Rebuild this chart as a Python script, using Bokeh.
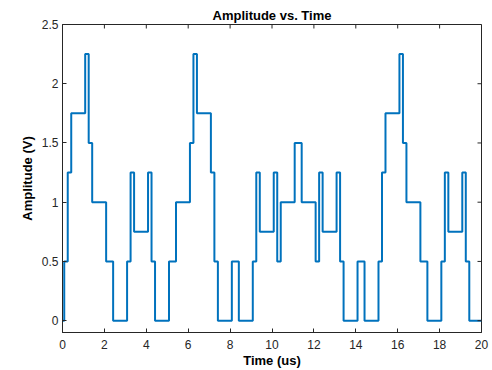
import math
from bokeh.plotting import figure
from bokeh.models import Range1d, FixedTicker
from bokeh.embed import file_html
from bokeh.resources import INLINE

# Step signal: time of each level change (us) and new level (V)
time_us = [0.0, 0.083, 0.25, 0.417, 1.083, 1.25, 1.417, 2.083, 2.417, 3.083, 3.25, 3.417,
           4.083, 4.25, 4.417, 5.083, 5.417, 6.083, 6.25, 6.417, 7.083, 7.25, 7.417,
           8.083, 8.417, 9.083, 9.25, 9.417, 10.083, 10.25, 10.417, 11.083, 11.417,
           12.083, 12.25, 12.417, 13.083, 13.25, 13.417, 14.083, 14.417, 15.083, 15.25,
           15.417, 16.083, 16.25, 16.417, 17.083, 17.417, 18.083, 18.25, 18.417, 19.083,
           19.25, 19.417, 20.0]
amplitude_v = [0.0, 0.5, 1.25, 1.75, 2.25, 1.5, 1.0, 0.5, 0.0, 0.5, 1.25, 0.75,
               1.25, 0.5, 0.0, 0.5, 1.0, 1.5, 2.25, 1.75, 1.25, 0.5, 0.0,
               0.5, 0.0, 0.5, 1.25, 0.75, 1.25, 0.5, 1.0, 1.5, 1.0,
               0.5, 1.25, 0.75, 1.25, 0.5, 0.0, 0.5, 0.0, 0.5, 1.25,
               1.75, 2.25, 1.5, 1.0, 0.5, 0.0, 0.5, 1.25, 0.75, 1.25,
               0.5, 0.0, 0.0]

x_ticks = [0, 2, 4, 6, 8, 10, 12, 14, 16, 18, 20]
y_ticks = [0, 0.5, 1, 1.5, 2, 2.5]
y_tick_labels = ["0", "0.5", "1", "1.5", "2", "2.5"]
x_lim = (0, 20)
y_lim = (-0.1, 2.5)

FONT = "Liberation Sans"
AX = "#262626"

p = figure(width=492, height=370, output_backend="svg", toolbar_location=None,
           x_range=Range1d(*x_lim), y_range=Range1d(*y_lim),
           min_border_left=62, min_border_right=11, min_border_top=24, min_border_bottom=37,
           title="Amplitude vs. Time")
p.background_fill_color = "white"
p.border_fill_color = "white"
p.outline_line_color = AX
p.grid.visible = False

p.title.align = "center"
p.title.text_font = FONT
p.title.text_font_size = "13px"
p.title.text_font_style = "bold"
p.title.text_color = "#000000"
p.title.standoff = 4

p.step(time_us, amplitude_v, mode="after", line_color="#0072BD", line_width=2)

# inward tick marks on the top and right edges of the box (MATLAB style)
p.ray(x=x_ticks, y=[y_lim[1]] * len(x_ticks), length=4, length_units="screen",
      angle=-math.pi / 2, line_color=AX, line_width=1)
p.ray(x=[x_lim[1]] * len(y_ticks), y=y_ticks, length=4, length_units="screen",
      angle=math.pi, line_color=AX, line_width=1)

def style(ax, ticks):
    ax.ticker = FixedTicker(ticks=ticks)
    ax.major_tick_in = 4
    ax.major_tick_out = 0
    ax.minor_tick_in = 0
    ax.minor_tick_out = 0
    ax.axis_line_color = AX
    ax.major_tick_line_color = AX
    ax.major_label_text_color = AX
    ax.major_label_text_font = FONT
    ax.major_label_text_font_size = "12px"
    ax.axis_label_text_font = FONT
    ax.axis_label_text_font_size = "13px"
    ax.axis_label_text_font_style = "bold"
    ax.axis_label_text_color = "#000000"

xa = p.xaxis[0]
style(xa, x_ticks)
xa.axis_label = "Time (us)"
xa.major_label_standoff = 7
xa.axis_label_standoff = 1

ya = p.yaxis[0]
style(ya, y_ticks)
ya.axis_label = "Amplitude (V)"
ya.major_label_overrides = {t: s for t, s in zip(y_ticks, y_tick_labels)}
ya.major_label_standoff = 4
ya.axis_label_standoff = 4

open("out.html", "w").write(file_html(p, INLINE))
